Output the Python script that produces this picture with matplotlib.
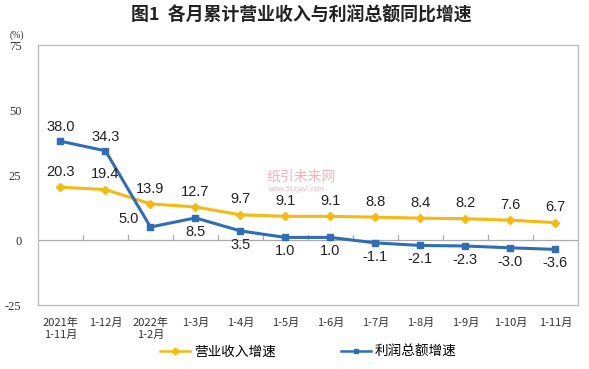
import matplotlib
matplotlib.use("Agg")
import matplotlib.pyplot as plt
import numpy as np

plt.rcParams['font.family'] = ['Noto Sans CJK SC', 'DejaVu Sans']

categories = ["2021年\n1-11月", "1-12月", "2022年\n1-2月", "1-3月", "1-4月", "1-5月",
              "1-6月", "1-7月", "1-8月", "1-9月", "1-10月", "1-11月"]
revenue = [20.3, 19.4, 13.9, 12.7, 9.7, 9.1, 9.1, 8.8, 8.4, 8.2, 7.6, 6.7]
profit = [38.0, 34.3, 5.0, 8.5, 3.5, 1.0, 1.0, -1.1, -2.1, -2.3, -3.0, -3.6]
yticks = [75, 50, 25, 0, -25]

c_rev = "#F5B90F"
c_pro = "#2F6DB5"

fig = plt.figure(figsize=(5.89, 3.69), dpi=100)
ax = fig.add_axes([0.0645, 0.1734, 0.9165, 0.7046])
x = np.arange(len(categories))
ax.plot(x, revenue, color=c_rev, lw=2.2, marker='D', ms=4.5, label="营业收入增速")
ax.plot(x, profit, color=c_pro, lw=2.2, marker='s', ms=4.5, label="利润总额增速")

ax.set_xlim(-0.5, len(categories) - 0.5)
ax.set_ylim(-25, 75)
ax.set_yticks(yticks)
ax.set_yticklabels([str(v) for v in yticks], family='Liberation Serif', fontsize=9, color='#333333')
ax.tick_params(axis='y', length=0, pad=12)
ax.set_xticks(x)
ax.set_xticklabels(categories, fontsize=8, color='#333333', linespacing=1.3)
ax.tick_params(axis='x', length=0, pad=9)
for s in ax.spines.values():
    s.set_color('#BBBBBB')
    s.set_linewidth(0.9)
ax.axhline(0, color='#AAAAAA', lw=0.9, zorder=0)
for b in np.arange(0.5, len(categories) - 0.5, 1):
    ax.plot([b, b], [0, 1.8], color='#AAAAAA', lw=0.9, zorder=0)

lab_font = dict(fontsize=10.5, family='Liberation Sans', color='#222222', ha='center')
for i, v in enumerate(revenue):
    ax.annotate(f"{v:.1f}", (i, v), xytext=(0, 6), textcoords='offset points', va='bottom', **lab_font)
for i, v in enumerate(profit):
    if i in (0, 1):
        ax.annotate(f"{v:.1f}", (i, v), xytext=(0, 5), textcoords='offset points', va='bottom', **lab_font)
    elif i == 2:
        ax.annotate(f"{v:.1f}", (i, v), xytext=(-16, 1), textcoords='offset points', va='bottom', **lab_font)
    else:
        ax.annotate(f"{v:.1f}", (i, v), xytext=(0, -5), textcoords='offset points', va='top', **lab_font)

fig.text(0.511, 0.957, "图1  各月累计营业收入与利润总额同比增速", ha='center', va='center',
         fontsize=12.9, fontweight='bold', color='#222222')
fig.text(0.028, 0.905, "(%)", ha='center', va='center', fontsize=7, color='#333333',
         family='Liberation Serif')

# watermark
fig.text(0.452, 0.52, "纸引未来网", fontsize=10, color='#F2A0AC', ha='left', va='center', alpha=0.8)
fig.text(0.455, 0.488, "www.51zywl.com", fontsize=5, color='#F2A0AC', ha='left', va='center', alpha=0.8)

leg = fig.legend(loc='center', bbox_to_anchor=(0.523, 0.046), ncol=2, frameon=False,
                 fontsize=9.8, handlelength=2.2, columnspacing=4.8, handletextpad=0.3)
for h in leg.legend_handles:
    h.set_linewidth(1.8)
    h.set_markersize(3.5)

fig.savefig("out.png", dpi=100)
